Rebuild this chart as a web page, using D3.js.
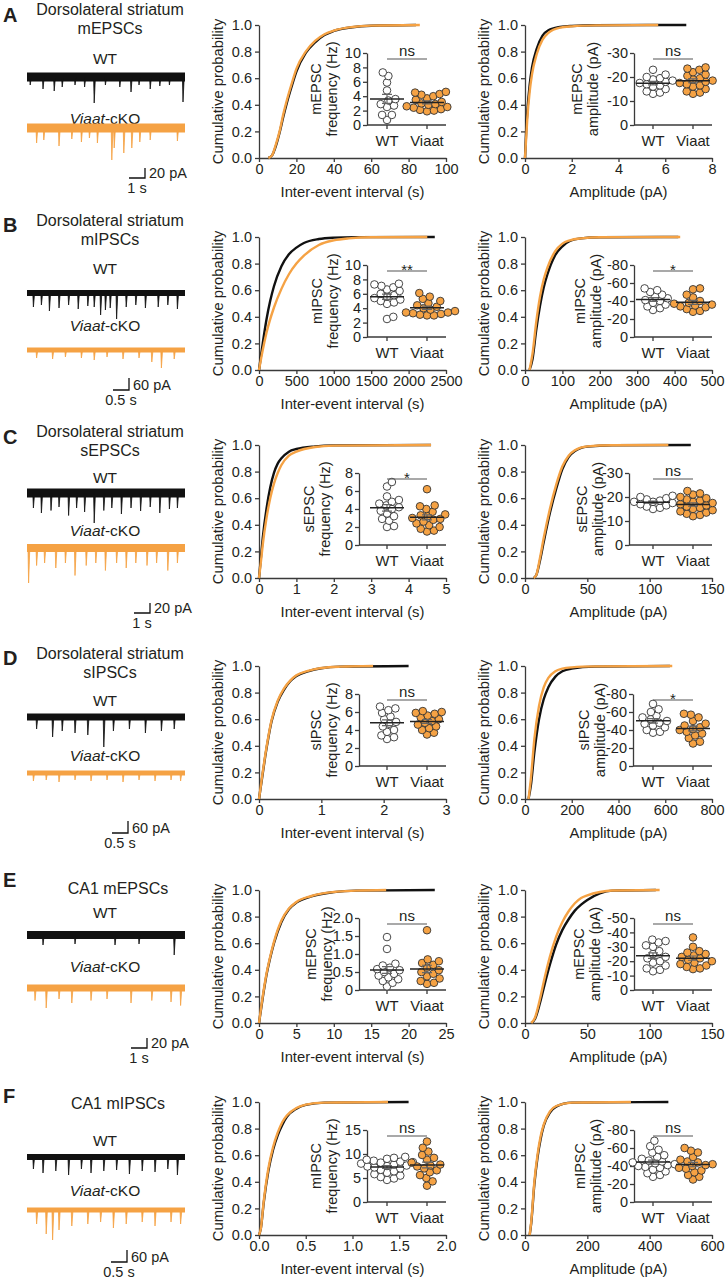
<!DOCTYPE html>
<html lang="en">
<head>
<meta charset="UTF-8">
<title>Viaat-cKO synaptic currents</title>
<script src="https://d3js.org/d3.v7.min.js"></script>
<style>
  body { margin: 0; background: #fff; }
  svg text { font-family: "Liberation Sans", Arial, Helvetica, sans-serif; fill: #231f20; }
</style>
</head>
<body>
<div id="fig"></div>
<script>
// ---------- data ----------
const panels = ["A", "B", "C", "D", "E", "F"];
const titles = [["Dorsolateral striatum", "mEPSCs"], ["Dorsolateral striatum", "mIPSCs"],
  ["Dorsolateral striatum", "sEPSCs"], ["Dorsolateral striatum", "sIPSCs"], ["CA1 mEPSCs"], ["CA1 mIPSCs"]];
const currentNames = ["mEPSC", "mIPSC", "sEPSC", "sIPSC", "mEPSC", "mIPSC"];
const scaleBarPA = [20, 60, 20, 60, 20, 60];
const scaleBarSec = [1, 0.5, 1, 0.5, 1, 0.5];
const sigFreq = ["ns", "**", "*", "ns", "ns", "ns"];
const sigAmp = ["ns", "*", "ns", "*", "ns", "ns"];

// x-axis extents of the cumulative plots
const intervalMax = [100, 2500, 5, 3, 25, 2];
const intervalStep = [20, 500, 1, 1, 5, 0.5];
const ampMax = [8, 500, 150, 800, 150, 600];
const ampStep = [2, 100, 50, 200, 50, 200];
// inset y-axes
const freqMax = [10, 10, 8, 8, 2, 15];
const freqStep = [2, 2, 2, 2, 0.5, 5];
const ampInsetMax = [30, 80, 30, 80, 50, 80];
const ampInsetStep = [10, 20, 10, 20, 10, 20];

// cumulative curves [value, probability]
const intervalWT = [
  [[5,0],[7,0.02],[9,0.09],[11,0.19],[13,0.31],[15,0.42],[17.5,0.54],[20,0.65],[25,0.79],[30,0.87],[35,0.925],[40,0.955],[50,0.983],[60,0.994],[84,1]],
  [[0,0],[50,0.2],[100,0.38],[150,0.52],[200,0.63],[300,0.78],[400,0.87],[500,0.92],[600,0.955],[800,0.985],[1000,0.995],[1300,0.999],[2350,1]],
  [[0,0],[0.05,0.15],[0.1,0.3],[0.2,0.52],[0.3,0.68],[0.4,0.79],[0.5,0.86],[0.6,0.9],[0.8,0.95],[1,0.97],[1.5,0.99],[2,0.997],[4.6,1]],
  [[0,0],[0.05,0.16],[0.1,0.32],[0.15,0.46],[0.2,0.58],[0.3,0.73],[0.4,0.82],[0.5,0.885],[0.6,0.925],[0.8,0.962],[1,0.983],[1.3,0.995],[2.4,1]],
  [[0,0],[0.5,0.19],[1,0.36],[1.5,0.49],[2,0.6],[3,0.76],[4,0.855],[5,0.905],[7,0.952],[10,0.984],[13,0.995],[23.5,1]],
  [[0,0],[0.02,0.05],[0.05,0.24],[0.1,0.48],[0.15,0.64],[0.2,0.75],[0.25,0.83],[0.3,0.89],[0.4,0.95],[0.5,0.978],[0.7,0.995],[1.6,1]]
];
const intervalKO = [
  [[5,0],[7,0.02],[9,0.1],[11,0.2],[13,0.33],[15,0.44],[17.5,0.56],[20,0.67],[25,0.8],[30,0.88],[35,0.93],[40,0.958],[50,0.985],[60,0.995],[86,1]],
  [[0,0],[50,0.15],[100,0.28],[200,0.47],[300,0.61],[400,0.72],[500,0.8],[600,0.86],[800,0.94],[1000,0.975],[1200,0.99],[1500,0.998],[2250,1]],
  [[0,0],[0.05,0.12],[0.1,0.25],[0.2,0.45],[0.3,0.6],[0.4,0.71],[0.5,0.79],[0.6,0.85],[0.8,0.92],[1,0.95],[1.5,0.985],[2,0.995],[4.6,1]],
  [[0,0],[0.05,0.17],[0.1,0.33],[0.15,0.47],[0.2,0.59],[0.3,0.74],[0.4,0.83],[0.5,0.89],[0.6,0.93],[0.8,0.965],[1,0.985],[1.3,0.995],[1.83,1]],
  [[0,0],[0.5,0.2],[1,0.37],[1.5,0.5],[2,0.61],[3,0.77],[4,0.86],[5,0.91],[7,0.955],[10,0.985],[13,0.995],[17,1]],
  [[0,0],[0.02,0.05],[0.05,0.25],[0.1,0.5],[0.15,0.66],[0.2,0.77],[0.25,0.85],[0.3,0.9],[0.4,0.955],[0.5,0.98],[0.7,0.995],[1.38,1]]
];
const ampWT = [
  [[0,0],[0.05,0.2],[0.1,0.35],[0.2,0.55],[0.3,0.68],[0.5,0.82],[0.75,0.92],[1,0.96],[1.5,0.985],[2,0.993],[3,0.998],[6.9,1]],
  [[12,0],[20,0.08],[30,0.3],[40,0.48],[50,0.62],[60,0.72],[80,0.86],[100,0.93],[120,0.97],[150,0.99],[200,0.998],[410,1]],
  [[7,0],[9,0.02],[12,0.13],[15,0.27],[20,0.49],[25,0.67],[30,0.82],[35,0.91],[40,0.955],[50,0.988],[70,0.998],[133,1]],
  [[15,0],[25,0.1],[40,0.35],[60,0.6],[80,0.75],[100,0.84],[130,0.92],[160,0.96],[200,0.98],[300,0.995],[620,1]],
  [[5,0],[8,0.03],[12,0.15],[16,0.3],[20,0.44],[25,0.59],[30,0.7],[35,0.78],[40,0.845],[45,0.89],[50,0.925],[60,0.975],[70,0.995],[105,1]],
  [[15,0],[20,0.09],[30,0.38],[40,0.58],[50,0.72],[60,0.82],[80,0.92],[100,0.965],[150,0.995],[460,1]]
];
const ampKO = [
  [[0,0],[0.05,0.15],[0.1,0.3],[0.2,0.5],[0.3,0.63],[0.5,0.78],[0.75,0.89],[1,0.94],[1.5,0.98],[2,0.99],[3,0.997],[5.7,1]],
  [[12,0],[20,0.12],[30,0.36],[40,0.55],[50,0.68],[60,0.77],[80,0.89],[100,0.95],[120,0.975],[150,0.99],[200,0.998],[415,1]],
  [[7,0],[9,0.02],[12,0.15],[15,0.3],[20,0.52],[25,0.7],[30,0.84],[35,0.92],[40,0.96],[50,0.99],[70,0.998],[115,1]],
  [[15,0],[25,0.15],[40,0.45],[60,0.7],[80,0.84],[100,0.91],[130,0.96],[160,0.98],[200,0.99],[300,0.997],[630,1]],
  [[5,0],[8,0.04],[12,0.18],[16,0.35],[20,0.5],[25,0.65],[30,0.76],[35,0.84],[40,0.9],[45,0.94],[50,0.96],[60,0.985],[70,0.996],[108,1]],
  [[15,0],[20,0.1],[30,0.4],[40,0.6],[50,0.74],[60,0.83],[80,0.93],[100,0.97],[150,0.995],[340,1]]
];

// inset dots: frequency (Hz) and amplitude (pA, plotted as negative)
const freqDotsWT = [
  [7.3, 6.8, 5.9, 4.8, 3.6, 3.4, 2.9, 2.7, 2.5, 1.4, 1.4, 0.7],
  [7.4, 7.3, 7.1, 6.9, 6.6, 6.4, 6.0, 5.8, 5.6, 5.4, 5.2, 5.0, 4.8, 4.6, 2.5, 2.8],
  [7.0, 6.5, 5.4, 5.0, 4.8, 4.4, 4.2, 4.0, 3.8, 3.5, 3.2, 2.9, 2.7, 2.1, 2.0, 4.6],
  [6.6, 6.4, 6.2, 5.9, 5.5, 5.2, 4.9, 4.7, 4.4, 4.0, 3.8, 3.4, 3.2, 3.0],
  [1.47, 1.14, 0.73, 0.68, 0.62, 0.58, 0.55, 0.5, 0.45, 0.4, 0.35, 0.3, 0.25, 0.2, 0.1],
  [9.4, 9.2, 9.0, 8.8, 8.6, 8.4, 8.2, 8.0, 7.8, 7.6, 7.4, 7.2, 7.0, 6.7, 6.4, 6.1, 5.8, 5.5, 5.2, 4.9, 4.6, 7.5, 8.3]
];
const freqDotsKO = [
  [4.6, 4.5, 4.3, 4.2, 4.0, 3.7, 3.5, 3.2, 3.0, 2.9, 2.8, 2.6, 2.4, 2.2, 2.1, 2.0, 1.9, 2.5],
  [6.1, 5.6, 5.3, 5.0, 4.7, 4.4, 4.2, 4.0, 3.8, 3.6, 3.4, 3.3, 3.2, 3.1, 3.0, 3.4, 3.0],
  [6.2, 4.4, 4.3, 4.0, 3.7, 3.4, 3.2, 3.0, 2.8, 2.6, 2.4, 2.2, 2.0, 1.8, 1.6, 1.5, 3.3, 2.9],
  [6.1, 6.0, 5.9, 5.8, 5.6, 5.4, 5.2, 5.0, 4.8, 4.6, 4.4, 4.2, 4.0, 3.7, 3.5],
  [1.66, 0.85, 0.8, 0.75, 0.7, 0.62, 0.55, 0.5, 0.45, 0.38, 0.32, 0.25, 0.2, 0.17],
  [12.6, 11.3, 10.5, 9.8, 9.2, 8.8, 8.2, 7.8, 7.6, 7.4, 7.0, 6.6, 6.2, 5.6, 5.0, 4.3, 3.4]
];
const ampDotsWT = [
  [23, 21, 20, 19.5, 19, 18.5, 18, 17.5, 17, 16.5, 16, 15, 14, 13.5, 13],
  [54, 52, 50, 47, 45, 43, 41, 40, 38, 36, 34, 32, 30],
  [20.5, 20, 19.5, 19, 18.5, 18, 18, 17.5, 17, 16.5, 16, 15.5, 15],
  [69, 63, 60, 56, 54, 52, 50, 48, 47, 45, 43, 40, 38, 37],
  [35, 34, 33, 31, 30, 27, 25, 23, 22, 20, 19, 17, 15, 14, 13],
  [68, 62, 58, 55, 52, 50, 48, 46, 44, 43, 42, 40, 38, 36, 34, 32, 30, 28, 45, 39, 41]
];
const ampDotsKO = [
  [24, 23.5, 23, 22, 21, 20.5, 19.5, 19, 18.5, 18, 17.5, 17, 16.5, 16, 15, 14, 13.5, 13],
  [54, 53, 47, 44, 40, 38, 37, 36, 35, 34, 33, 31, 29, 28],
  [22.5, 21.5, 21, 20, 19.5, 19, 18.5, 18, 17.5, 17, 16.5, 16, 15.5, 15, 14.5, 14, 13.5, 13, 12.5, 12],
  [58, 57, 54, 50, 47, 45, 43, 41, 40, 38, 36, 34, 31, 27, 25],
  [36.5, 30, 27, 26, 25, 24, 23, 22, 21, 20, 19, 18, 17, 16, 15, 14.5],
  [60, 57, 55, 50, 47, 45, 42, 40, 38, 37, 35, 33, 30, 28, 25, 44, 41]
];

// example trace events [time s, amplitude pA]
const eventsWT = [
  [[0.2,16],[1.0,24],[1.7,28],[2.2,20],[3.0,16],[3.6,20],[4.2,52],[4.9,16],[5.8,20],[6.5,30],[7.0,16],[7.7,24],[8.3,18],[8.9,16],[9.75,50]],
  [[0.2,70],[0.45,60],[0.7,90],[1.0,75],[1.3,60],[1.6,80],[1.9,65],[2.1,70],[2.3,110],[2.45,85],[2.6,75],[2.8,130],[3.1,70],[3.4,60],[3.7,75],[4.1,70],[4.4,60],[4.7,80]],
  [[0.4,30],[0.9,40],[1.5,35],[2.0,28],[2.6,45],[3.1,30],[3.6,38],[4.2,60],[4.8,35],[5.3,30],[5.9,42],[6.5,30],[7.1,36],[7.7,28],[8.3,40],[8.9,32],[9.4,30]],
  [[0.3,60],[0.8,100],[1.1,70],[1.5,80],[1.9,90],[2.4,150],[2.7,70],[3.2,60],[3.7,80],[4.2,70],[4.6,60]],
  [[1.0,20],[3.0,18],[5.5,20],[7.0,18],[9.2,40]],
  [[0.2,60],[0.5,80],[0.9,70],[1.3,90],[1.7,60],[2.0,80],[2.4,70],[2.8,65],[3.2,85],[3.6,70],[4.0,75],[4.4,60],[4.7,90]]
];
const eventsKO = [
  [[0.6,30],[1.05,24],[2.0,36],[2.8,22],[3.4,28],[3.9,20],[4.4,30],[5.3,64],[5.45,40],[6.05,50],[6.55,40],[7.05,28],[7.7,24],[9.4,26]],
  [[0.3,40],[0.8,45],[1.2,35],[1.7,40],[2.1,50],[2.5,35],[3.0,45],[3.5,40],[3.9,60],[4.2,90],[4.6,45]],
  [[0.1,70],[0.6,35],[1.1,30],[1.8,40],[2.4,30],[3.0,55],[3.7,35],[4.3,30],[4.9,45],[5.6,30],[6.2,40],[6.8,30],[7.5,35],[8.1,30],[8.8,45],[9.4,30]],
  [[0.2,40],[0.6,35],[1.0,45],[1.5,35],[2.0,40],[2.5,35],[3.0,45],[3.5,35],[4.0,40],[4.5,35],[4.8,40]],
  [[0.5,25],[1.2,40],[2.0,22],[2.8,30],[4.0,25],[5.0,22],[6.5,30],[7.8,25],[9.0,28],[9.6,35]],
  [[0.3,70],[0.6,120],[0.8,150],[1.0,100],[1.4,80],[1.9,70],[2.3,60],[2.7,90],[3.1,70],[3.6,60],[4.0,80],[4.5,60],[4.8,70]]
];

// ---------- layout ----------
const ORANGE = "#F5A244";
const AXIS = "#3a3a3a";
const rowTop = [25, 237, 445, 666, 890, 1102];
const plotH = 133, plotW = 187;
const midX0 = 259, rightX0 = 525;
const insetAxisMid = [108, 108, 100, 100, 100, 108];
const insetAxisRight = [109, 109, 104, 108, 109, 109];
const insetLabelMid = [73, 74, 66, 73, 68, 73];
const insetLabelRight = [68, 71, 73, 75, 70, 71];

const letterY = [22, 232, 444, 665, 887, 1103];
const titleY = [9, 220, 431, 653, 888, 1103];
const wtLabelY = [58, 268, 477, 700, 912, 1140];
const wtTraceY = [77, 293, 493, 717, 935, 1157];
const koLabelY = [118, 325, 530, 755, 966, 1190];
const koTraceY = [128, 350, 548, 773, 988, 1210];
const barX = [145, 129, 150, 128, 147, 127];
const barBottom = [178, 390, 613, 833, 1048, 1262];
const bandWT = [9, 6, 9, 7, 8, 6];
const bandKO = [9, 5, 8, 5, 7, 5];

const svg = d3.select("#fig").append("svg")
  .attr("width", 726).attr("height", 1280);

function styleAxis(sel) {
  sel.select(".domain").attr("stroke", AXIS).attr("stroke-width", 1.3);
  sel.selectAll(".tick line").attr("stroke", AXIS).attr("stroke-width", 1.3);
  sel.selectAll("text").attr("font-size", 14.5).attr("fill", "#231f20")
    .attr("font-family", "'Liberation Sans', Arial, sans-serif");
}

// simple beeswarm so dots don't sit on top of each other
function swarm(vals, yScale, cx, r) {
  const placed = [];
  vals.slice().sort((a, b) => a - b).forEach(v => {
    const y = yScale(v);
    let dx = null;
    for (let k = 0; k <= 60 && dx === null; k++) {
      const cands = k === 0 ? [0] : [k * 0.7, -k * 0.7];
      for (const c of cands) {
        if (placed.every(p => Math.hypot(p.x - (cx + c), p.y - y) >= 2 * r - 1)) { dx = c; break; }
      }
    }
    placed.push({ x: cx + (dx || 0), y: y });
  });
  return placed;
}

function drawTraces(i) {
  const g = svg.append("g");
  g.append("text").attr("x", 3).attr("y", letterY[i]).attr("font-size", 20)
    .attr("font-weight", "bold").text(panels[i]);
  const t = titles[i];
  const cx = t.length > 1 ? 110 : 118;
  t.forEach((line, k) => {
    g.append("text").attr("x", cx).attr("y", titleY[i] + k * 19)
      .attr("text-anchor", "middle").attr("dominant-baseline", "central")
      .attr("font-size", 16).text(line);
  });
  g.append("text").attr("x", 105).attr("y", wtLabelY[i]).attr("text-anchor", "middle")
    .attr("dominant-baseline", "central").attr("font-size", 15.5).text("WT");
  const ko = g.append("text").attr("x", 105).attr("y", koLabelY[i]).attr("text-anchor", "middle")
    .attr("dominant-baseline", "central").attr("font-size", 15.5);
  ko.append("tspan").attr("font-style", "italic").text("Viaat");
  ko.append("tspan").text("-cKO");

  const pxPerSec = 16 / scaleBarSec[i];
  const barV = scaleBarPA[i] === 20 ? 10 : 12;
  const pxPerPA = barV / scaleBarPA[i];
  const dur = 158 / pxPerSec;
  const tx = d3.scaleLinear().domain([0, dur]).range([27, 185]);

  [[eventsWT[i], wtTraceY[i], "#111", bandWT[i]], [eventsKO[i], koTraceY[i], ORANGE, bandKO[i]]]
    .forEach(([ev, y0, col, bh]) => {
      const ty = d3.scaleLinear().domain([0, 100]).range([y0, y0 + 100 * pxPerPA]);
      g.append("rect").attr("x", tx(0)).attr("y", y0 - bh / 2)
        .attr("width", tx(dur) - tx(0)).attr("height", bh).attr("fill", col);
      g.selectAll(null).data(ev).enter().append("path")
        .attr("d", d => `M${tx(d[0]) - 0.6},${y0} L${tx(d[0])},${ty(d[1])} L${tx(d[0]) + 1.2},${y0}`)
        .attr("fill", col).attr("stroke", col).attr("stroke-width", 0.8);
    });

  // scale bar
  const bx = barX[i], by = barBottom[i];
  g.append("path").attr("d", `M${bx - 16},${by} H${bx} V${by - barV}`)
    .attr("fill", "none").attr("stroke", "#111").attr("stroke-width", 1.3);
  g.append("text").attr("x", bx + 4).attr("y", by - 5).attr("dominant-baseline", "central")
    .attr("font-size", 14.5).text(scaleBarPA[i] + " pA");
  g.append("text").attr("x", bx - 8).attr("y", by + 10).attr("text-anchor", "middle")
    .attr("dominant-baseline", "central").attr("font-size", 14.5).text(scaleBarSec[i] + " s");
}

function drawCdf(i, kind) {
  const g = svg.append("g");
  const isInt = kind === "interval";
  const x0 = isInt ? midX0 : rightX0;
  const top = rowTop[i], bottom = top + plotH;
  const xMax = isInt ? intervalMax[i] : ampMax[i];
  const step = isInt ? intervalStep[i] : ampStep[i];
  const x = d3.scaleLinear().domain([0, xMax]).range([x0, x0 + plotW]);
  const y = d3.scaleLinear().domain([0, 1]).range([bottom, top]);
  const fmt = step < 1 ? d3.format(".1f") : d3.format("d");

  g.append("g").attr("transform", `translate(0,${bottom})`)
    .call(d3.axisBottom(x).tickValues(d3.range(0, xMax + step / 2, step)).tickFormat(fmt)
      .tickSize(4).tickPadding(2).tickSizeOuter(0))
    .call(styleAxis);
  g.append("g").attr("transform", `translate(${x0},0)`)
    .call(d3.axisLeft(y).tickValues(d3.range(0, 1.01, 0.2)).tickFormat(d3.format(".1f"))
      .tickSize(4).tickPadding(3).tickSizeOuter(0))
    .call(styleAxis);

  const line = d3.line().x(d => x(d[0])).y(d => y(d[1])).curve(d3.curveMonotoneX);
  const wt = isInt ? intervalWT[i] : ampWT[i];
  const koc = isInt ? intervalKO[i] : ampKO[i];
  g.append("path").datum(wt).attr("d", line).attr("fill", "none")
    .attr("stroke", "#111").attr("stroke-width", 2.4);
  g.append("path").datum(koc).attr("d", line).attr("fill", "none")
    .attr("stroke", ORANGE).attr("stroke-width", 2.4);

  g.append("text").attr("transform", `translate(${x0 - 41},${top + plotH / 2}) rotate(-90)`)
    .attr("text-anchor", "middle").attr("dominant-baseline", "central")
    .attr("font-size", 14.8).text("Cumulative probability");
  g.append("text").attr("x", x0 + plotW / 2).attr("y", bottom + 34)
    .attr("text-anchor", "middle").attr("dominant-baseline", "central")
    .attr("font-size", 14.8).text(isInt ? "Inter-event interval (s)" : "Amplitude (pA)");

  // ---- inset scatter ----
  const iTop = top + 28, iBot = top + 100;
  const axisX = x0 + (isInt ? insetAxisMid[i] : insetAxisRight[i]);
  const endX = x0 + 187;
  const cat = d3.scalePoint().domain(["WT", "Viaat"]).range([x0 + 128, x0 + 168]);
  const yMax = isInt ? freqMax[i] : ampInsetMax[i];
  const yStep = isInt ? freqStep[i] : ampInsetStep[i];
  const yi = d3.scaleLinear().domain([0, yMax]).range([iBot, iTop]);
  const yfmt = isInt
    ? (d => d === 0 ? "0" : (yStep < 1 ? d.toFixed(1) : String(d)))
    : (d => d === 0 ? "0" : "-" + d);

  g.append("g").attr("transform", `translate(${axisX},0)`)
    .call(d3.axisLeft(yi).tickValues(d3.range(0, yMax + yStep / 2, yStep)).tickFormat(yfmt)
      .tickSize(4).tickPadding(2).tickSizeOuter(0))
    .call(styleAxis);
  g.append("line").attr("x1", axisX).attr("x2", endX).attr("y1", iBot).attr("y2", iBot)
    .attr("stroke", AXIS).attr("stroke-width", 1.3);
  cat.domain().forEach(c => {
    g.append("line").attr("x1", cat(c)).attr("x2", cat(c)).attr("y1", iBot).attr("y2", iBot + 4)
      .attr("stroke", AXIS).attr("stroke-width", 1.3);
    g.append("text").attr("x", cat(c)).attr("y", iBot + 16).attr("text-anchor", "middle")
      .attr("dominant-baseline", "central").attr("font-size", 14.8).text(c);
  });

  const lx = x0 + (isInt ? insetLabelMid[i] : insetLabelRight[i]);
  const lines = [currentNames[i], isInt ? "frequency (Hz)" : "amplitude (pA)"];
  lines.forEach((txt, k) => {
    g.append("text").attr("transform", `translate(${lx - 16 + k * 16},${(iTop + iBot) / 2}) rotate(-90)`)
      .attr("text-anchor", "middle").attr("dominant-baseline", "central")
      .attr("font-size", 14.5).text(txt);
  });

  const groups = [
    ["WT", isInt ? freqDotsWT[i] : ampDotsWT[i], "#fff"],
    ["Viaat", isInt ? freqDotsKO[i] : ampDotsKO[i], ORANGE]
  ];
  groups.forEach(([c, vals, fill]) => {
    const pts = swarm(vals, yi, cat(c), 3.8);
    g.selectAll(null).data(pts).enter().append("circle")
      .attr("cx", d => d.x).attr("cy", d => d.y).attr("r", 3.8)
      .attr("fill", fill).attr("stroke", "#333").attr("stroke-width", 0.9);
    const m = d3.mean(vals);
    const sem = d3.deviation(vals) / Math.sqrt(vals.length);
    g.append("path")
      .attr("d", `M${cat(c) - 5},${yi(m + sem)} H${cat(c) + 5} M${cat(c)},${yi(m + sem)} V${yi(m - sem)} M${cat(c) - 5},${yi(m - sem)} H${cat(c) + 5}`)
      .attr("stroke", "#666").attr("stroke-width", 1.2).attr("fill", "none");
    g.append("line").attr("x1", cat(c) - 17).attr("x2", cat(c) + 17)
      .attr("y1", yi(m)).attr("y2", yi(m)).attr("stroke", "#222").attr("stroke-width", 1.5);
  });

  const sig = isInt ? sigFreq[i] : sigAmp[i];
  const barY = iTop + 6;
  g.append("line").attr("x1", cat("WT")).attr("x2", cat("Viaat")).attr("y1", barY).attr("y2", barY)
    .attr("stroke", "#555").attr("stroke-width", 1.2);
  g.append("text").attr("x", (cat("WT") + cat("Viaat")) / 2)
    .attr("y", sig === "ns" ? barY - 3 : barY + 4)
    .attr("text-anchor", "middle").attr("font-size", 15).text(sig);
}

panels.forEach((p, i) => {
  drawTraces(i);
  drawCdf(i, "interval");
  drawCdf(i, "amp");
});
</script>
</body>
</html>
